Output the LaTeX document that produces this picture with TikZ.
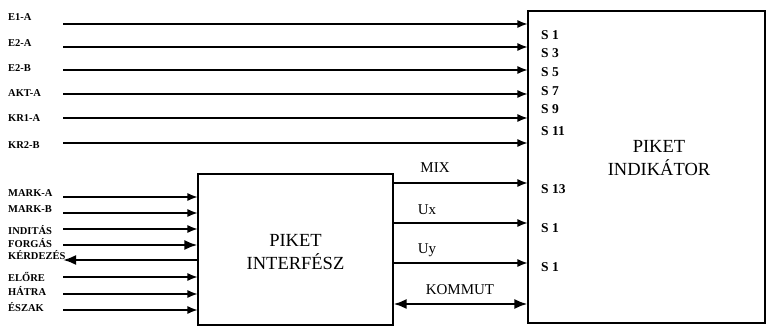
\documentclass[tikz,border=0pt]{standalone}
\usepackage{fontspec}
\setmainfont{Liberation Serif}
\usetikzlibrary{arrows.meta}
\begin{document}
\begin{tikzpicture}[x=1pt,y=-1pt,
  box/.style={draw,line width=1.1pt,inner sep=0pt},
  inlab/.style={anchor=west,inner sep=0pt,font=\fontsize{10.5}{10.5}\selectfont\bfseries},
  slab/.style={anchor=west,inner sep=0pt,font=\fontsize{13.5}{13.5}\selectfont\bfseries},
  siglab/.style={inner sep=0pt,font=\fontsize{15}{15}\selectfont},
  bigtext/.style={align=center,inner sep=0pt,font=\fontsize{18.5}{23}\selectfont},
  arr/.style={-{Latex[length=10pt,width=8pt]},line width=1.2pt},
  tarr/.style={-{Latex[length=13pt,width=10pt]},line width=2.2pt},
  darr/.style={{Latex[length=13pt,width=10pt]}-{Latex[length=13pt,width=10pt]},line width=2.2pt}]
\useasboundingbox (0,0) rectangle (766,328);
% boxes
\node[box,minimum width=237pt,minimum height=312pt] (ind) at (646.5,167) {};
\node[box,minimum width=195pt,minimum height=151pt] (itf) at (295.5,249.5) {};
\node[bigtext] (indt) at (659,158) {PIKET\\INDIKÁTOR};
\node[bigtext] (itft) at (295.5,252) {PIKET\\INTERFÉSZ};
% top inputs
\foreach \n/\t/\ly/\y in {a/E1-A/17/24, b/E2-A/43/47, c/E2-B/68/70, d/AKT-A/93/94, e/KR1-A/118/118, f/KR2-B/145/143}{
  \node[inlab] (l\n) at (8,\ly) {\t};
  \coordinate (s\n) at (63,\y);
  \draw[arr] (s\n) -- (s\n -| ind.west);
}
% S labels
\foreach \n/\t/\y in {1/S 1/35, 3/S 3/53, 5/S 5/72, 7/S 7/91, 9/S 9/109, 11/S 11/131, 13/S 13/189, 14/S 1/228, 15/S 1/267}{
  \node[slab] (sl\n) at (541,\y) {\t};
}
% lower inputs
\foreach \n/\t/\ly/\y/\st in {g/MARK-A/193/197/arr, h/MARK-B/209/213/arr, i/INDITÁS/230/229/arr, j/FORGÁS/243/245/tarr, l/ELŐRE/277/277/arr, m/HÁTRA/291/294/arr, o/ÉSZAK/307/310/arr}{
  \node[inlab] (l\n) at (8,\ly) {\t};
  \coordinate (s\n) at (63,\y);
  \draw[\st] (s\n) -- (s\n -| itf.west);
}
\node[inlab] (lk) at (8,255) {KÉRDEZÉS};
\coordinate (sk) at (63,260);
\draw[tarr] (sk -| itf.west) -- (sk);
% outputs of interface
\foreach \n/\y in {mix/183, ux/223, uy/263}{
  \coordinate (o\n) at (393,\y);
  \draw[arr] (o\n -| itf.east) -- (o\n -| ind.west);
}
\coordinate (okom) at (393,304);
\draw[darr] (okom -| itf.east) -- (okom -| ind.west);
\node[siglab] (tmix) at (435,168) {MIX};
\node[siglab] (tux) at (427,210) {Ux};
\node[siglab] (tuy) at (427,250) {Uy};
\node[siglab] (tkom) at (460,290) {KOMMUT};
\end{tikzpicture}
\end{document}
